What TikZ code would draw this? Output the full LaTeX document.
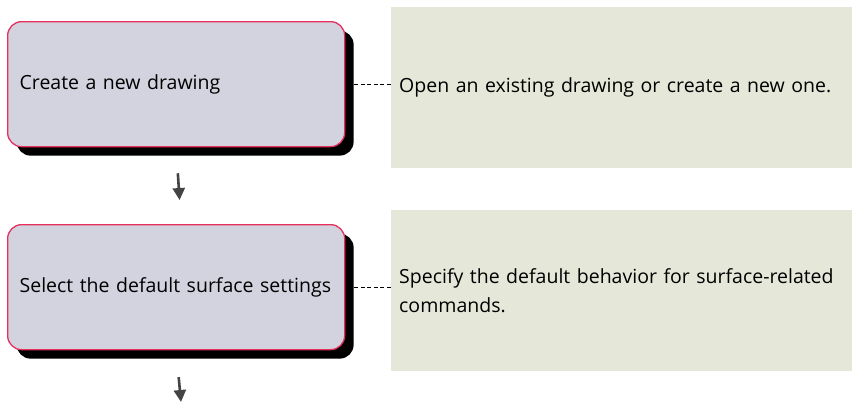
\documentclass[tikz,border=0pt]{standalone}
\usepackage{fontspec}
\setmainfont{Open Sans}
\usepackage{tikz}
\usetikzlibrary{positioning}
\usetikzlibrary{shadows}
\usetikzlibrary{arrows.meta}
\definecolor{stepfill}{HTML}{D3D3DF}
\definecolor{stepline}{HTML}{E4305A}
\definecolor{notefill}{HTML}{E5E8D9}
\definecolor{arrowgray}{HTML}{444444}
\tikzstyle{stepbox}=[rectangle, rounded corners=14pt, draw=stepline, line width=1.3pt, fill=stepfill, minimum width=337pt, minimum height=125pt, inner xsep=12pt, text width=313pt, align=left, anchor=north west, general shadow={fill=black, shadow xshift=9pt, shadow yshift=-9pt, rounded corners=14pt}]
\tikzstyle{notebox}=[rectangle, fill=notefill, minimum width=461pt, minimum height=161pt, text width=445pt, align=left, anchor=north west]
\tikzstyle{leader}=[dash pattern=on 4pt off 2.5pt, line width=0.9pt]
\tikzstyle{flowarrow}=[-{Triangle[length=12pt, width=12pt]}, line width=2.6pt, arrowgray]

\begin{document}
\begin{tikzpicture}[x=1pt, y=-1pt, font=\fontsize{19.5}{29}\selectfont]
    \useasboundingbox (0,0) rectangle (852,402);

    \node [stepbox] (create) at (7,21) {Create a new drawing};
    \node [stepbox] (select) at (7,224) {Select the default surface settings};

    \node [notebox] (note-1) at (391,7) {Open an existing drawing or create a new one.};
    \node [notebox] (note-2) at (391,210) {Specify the default behavior for surface-related\\commands.};

    \coordinate (end) at (181,402);

    \draw [leader, shorten <=9pt] (create.east) -- (create.east -| note-1.west);
    \draw [leader, shorten <=9pt] (select.east) -- (select.east -| note-2.west);

    \draw [flowarrow, shorten <=26pt, shorten >=24pt] ([xshift=0pt]create.south) -- ([xshift=5pt]select.north);
    \draw [flowarrow, shorten <=27pt] (select.south) -- (end);
  \end{tikzpicture}
\end{document}
